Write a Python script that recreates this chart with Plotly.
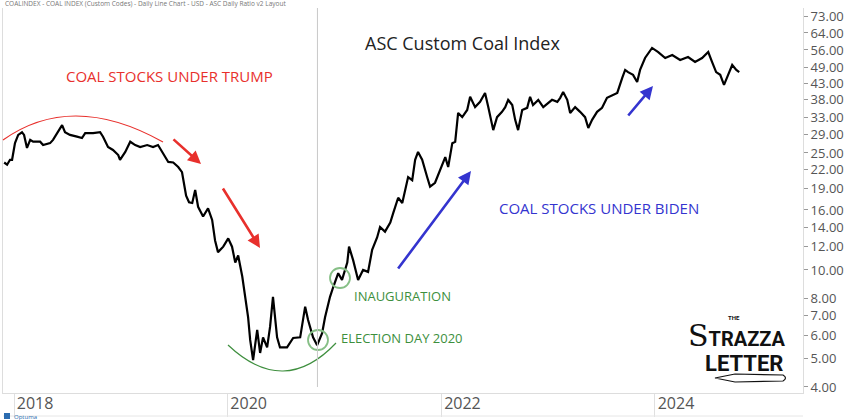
import plotly.graph_objects as go

# ---------------- data ----------------
dates = [
    "2017-11-28", "2017-12-08", "2017-12-18", "2017-12-25", "2018-01-04", "2018-01-15", "2018-01-28",
    "2018-02-04", "2018-02-14", "2018-02-25", "2018-03-07", "2018-03-31", "2018-04-10", "2018-05-04",
    "2018-05-14", "2018-05-28", "2018-06-14", "2018-06-24", "2018-07-11", "2018-08-04", "2018-08-21",
    "2018-09-01", "2018-09-28", "2018-10-22", "2018-11-01", "2018-11-18", "2018-12-05", "2018-12-23",
    "2018-12-29",
    "2019-01-16", "2019-02-02", "2019-02-19", "2019-03-08", "2019-04-01", "2019-04-21", "2019-05-08",
    "2019-05-25", "2019-06-12", "2019-06-29", "2019-07-16", "2019-07-29", "2019-08-05", "2019-08-12",
    "2019-08-22", "2019-09-02", "2019-09-12", "2019-09-22", "2019-10-09", "2019-10-26", "2019-11-09",
    "2019-11-19", "2019-11-29", "2019-12-17",
    "2020-01-03", "2020-01-16", "2020-01-27", "2020-02-06", "2020-02-20", "2020-03-01", "2020-03-11",
    "2020-03-18", "2020-03-28", "2020-04-11", "2020-04-21", "2020-05-01", "2020-05-15", "2020-05-25",
    "2020-06-04", "2020-06-18", "2020-06-28", "2020-07-22", "2020-08-12", "2020-09-05", "2020-09-22",
    "2020-10-02", "2020-10-19", "2020-11-02", "2020-11-19", "2020-11-29", "2020-12-16", "2020-12-27",
    "2021-01-13", "2021-01-26", "2021-02-13", "2021-02-19", "2021-03-05", "2021-03-22", "2021-04-08",
    "2021-04-25", "2021-05-09", "2021-05-26", "2021-06-05", "2021-06-22", "2021-07-10", "2021-07-20",
    "2021-08-06", "2021-08-20", "2021-08-30", "2021-09-09", "2021-09-23", "2021-10-03", "2021-10-13",
    "2021-10-27", "2021-11-13", "2021-11-23", "2021-12-10", "2021-12-28",
    "2022-01-14", "2022-01-24", "2022-02-07", "2022-02-17", "2022-02-27", "2022-03-13", "2022-03-30",
    "2022-04-09", "2022-04-26", "2022-05-13", "2022-05-30", "2022-06-10", "2022-06-27", "2022-07-10",
    "2022-07-27", "2022-08-07", "2022-08-17", "2022-08-31", "2022-09-10", "2022-09-20", "2022-10-04",
    "2022-10-21", "2022-10-31", "2022-11-10", "2022-11-28", "2022-12-15",
    "2023-01-02", "2023-01-14", "2023-02-01", "2023-02-11", "2023-02-21", "2023-03-07", "2023-03-17",
    "2023-04-03", "2023-04-20", "2023-05-07", "2023-05-18", "2023-05-31", "2023-06-17", "2023-07-04",
    "2023-07-21", "2023-08-08", "2023-08-25", "2023-09-11", "2023-09-21", "2023-10-01", "2023-10-18",
    "2023-11-01", "2023-11-11", "2023-11-28", "2023-12-22",
    "2024-01-12", "2024-02-05", "2024-02-29", "2024-03-27", "2024-04-23", "2024-05-17", "2024-06-10",
    "2024-07-01", "2024-07-14", "2024-07-28", "2024-08-11", "2024-08-24", "2024-09-07", "2024-09-21",
    "2024-10-05", "2024-10-15",
]
values = [
    23.2, 22.8, 23.7, 23.7, 27.0, 28.8, 29.4, 28.8, 26.0, 27.7, 27.3, 27.3, 26.6, 27.0, 27.7, 29.2,
    31.1, 29.4, 28.8, 28.4, 28.1, 29.2, 29.2, 29.4, 28.4, 26.2, 25.6, 24.6, 23.7,
    25.2, 27.3, 26.6, 26.2, 26.6, 26.2, 26.6, 25.0, 23.3, 23.2, 22.4, 21.5, 19.5, 17.9, 17.0, 16.9,
    18.7, 16.4, 15.2, 16.2, 14.8, 12.6, 11.5, 12.0,
    12.8, 12.0, 10.6, 11.2, 9.5, 8.1, 6.9, 5.78, 4.94, 6.25, 5.22, 5.9, 5.45, 6.4, 8.1, 5.9, 5.45,
    5.45, 5.87, 5.9, 7.5, 6.76, 5.9, 5.55, 6.1, 6.9, 8.1, 8.75,
    9.75, 9.25, 10.6, 12.0, 10.8, 9.25, 10.0, 9.85, 11.7, 12.9, 14.0, 13.5, 14.5, 15.6, 17.6, 16.9,
    18.7, 20.7, 20.2, 23.7, 25.2, 23.7, 20.7, 19.2, 19.8, 21.9,
    24.2, 22.4, 27.0, 27.3, 34.2, 33.1, 35.0, 38.8, 35.8, 37.3, 40.0, 35.8, 29.9, 33.1, 34.5, 35.8,
    37.9, 36.4, 32.4, 29.9, 35.0, 35.6, 38.8, 36.4, 37.9, 35.8,
    37.0, 37.9, 37.3, 38.5, 40.3, 37.9, 34.2, 35.8, 34.5, 33.1, 30.4, 32.4, 34.5, 35.6, 38.5, 39.4,
    40.0, 45.0, 47.9, 47.1, 46.1, 43.6, 47.9, 52.6, 56.9,
    55.1, 52.6, 53.8, 51.8, 53.0, 51.0, 52.6, 55.1, 51.0, 47.1, 46.1, 42.6, 46.1, 49.8, 47.9, 47.1,
]

price_ticks = [4, 5, 6, 7, 8, 10, 12, 14, 16, 19, 22, 25, 29, 33, 38, 43, 49, 56, 64, 73]
price_labels = [f"{v:.2f}" for v in price_ticks]
year_ticks = ["2018-01-01", "2020-01-01", "2022-01-01", "2024-01-01"]
year_labels = ["2018", "2020", "2022", "2024"]
election_day = "2020-11-03"

title_text = "ASC Custom Coal Index"
header_text = "COALINDEX - COAL INDEX (Custom Codes) - Daily Line Chart - USD - ASC Daily Ratio v2 Layout"

# ---------------- layout helpers (pixel -> paper) ----------------
W, H = 860, 420
L, R, T, B = 3, 803, 8, 393


def px(x):
    return (x - L) / (R - L)


def py(y):
    return (B - y) / (B - T)


RED = "#e8302c"
BLUE = "#3434cf"
GREEN_T = "#3d8f3d"
GREEN_S = "#86bf86"
Y_TICK_FONT = dict(family="Open Sans, Noto Sans, sans-serif", size=13, color="#555555")
X_TICK_FONT = dict(family="Open Sans, Noto Sans, sans-serif", size=16, color="#555555")

fig = go.Figure()
fig.add_trace(go.Scatter(x=dates, y=values, mode="lines",
                         line=dict(color="#000000", width=2.2), hoverinfo="skip",
                         showlegend=False))

annotations = []


def text(x, y, s, size, color, family="Open Sans, sans-serif", xanchor="center", bold=False):
    annotations.append(dict(x=px(x), y=py(y), xref="paper", yref="paper", text=(f"<b>{s}</b>" if bold else s),
                            showarrow=False, xanchor=xanchor, yanchor="middle",
                            font=dict(size=size, color=color, family=family)))


def arrow(x0, y0, x1, y1, color):
    annotations.append(dict(x=px(x1), y=py(y1), xref="paper", yref="paper", text="",
                            showarrow=True, ax=x0 - x1, ay=y0 - y1, axref="pixel", ayref="pixel",
                            arrowhead=2, arrowsize=1.0, arrowwidth=2.6, arrowcolor=color))


text(3, 4, header_text, 6.5, "#777777", xanchor="left")
text(462, 43, title_text, 18, "#222222")
text(169, 76, "COAL STOCKS UNDER TRUMP", 15, RED)
text(599, 208, "COAL STOCKS UNDER BIDEN", 15, BLUE)
text(352, 296, "INAUGURATION", 13, GREEN_T, xanchor="left")
text(339, 338, "ELECTION DAY 2020", 13, GREEN_T, xanchor="left")

arrow(172, 138, 201, 164, RED)
arrow(222, 187, 260, 248, RED)
arrow(397, 270, 471, 171, BLUE)
arrow(627, 117, 653, 86, BLUE)

# logo
LOGO_FONT = "Liberation Sans Narrow, Roboto, sans-serif"
text(734, 317, "THE", 6, "#111111", family="Roboto, sans-serif", bold=True)
annotations.append(dict(x=px(737), y=py(335), xref="paper", yref="paper", showarrow=False,
                        xanchor="center", yanchor="middle",
                        text=("<span style='font-family:DejaVu Serif, serif;font-size:30px'>S</span>"
                              "<b>TRAZZA</b>"),
                        font=dict(size=20, color="#111111", family=LOGO_FONT)))
text(744, 363, "LETTER", 22, "#111111", family=LOGO_FONT, bold=True)
# Optuma mark
text(12, 417, "Optuma", 6, "#2b6cb0", xanchor="left")

shapes = []


def qpath(x0, y0, cx, cy, x1, y1):
    return f"M {px(x0)},{py(y0)} Q {px(cx)},{py(cy)} {px(x1)},{py(y1)}"


shapes.append(dict(type="path", xref="paper", yref="paper", path=qpath(3, 140, 72, 91, 163, 142),
                   line=dict(color=RED, width=1.2)))
shapes.append(dict(type="path", xref="paper", yref="paper", path=qpath(228, 345, 284, 398, 336, 343),
                   line=dict(color="#3f8f3f", width=1.2)))
for cx, cy, r in [(318, 340, 10), (340, 278, 10)]:
    shapes.append(dict(type="circle", xref="paper", yref="paper",
                       x0=px(cx - r), x1=px(cx + r), y0=py(cy + r), y1=py(cy - r),
                       line=dict(color=GREEN_S, width=1.8)))
# election-day vertical line
shapes.append(dict(type="line", xref="x", yref="paper", x0=election_day, x1=election_day,
                   y0=py(387), y1=1.0, line=dict(color="#c8c8c8", width=1)))
# bottom band line
shapes.append(dict(type="line", xref="paper", yref="paper", x0=0, x1=1.0, y0=py(416), y1=py(416),
                   line=dict(color="#e6e6e6", width=1)))
# pen under logo
shapes.append(dict(type="path", xref="paper", yref="paper",
                   path=(f"M {px(715)},{py(378)} L {px(735)},{py(374)} L {px(783)},{py(375)} "
                         f"Q {px(788)},{py(378)} {px(783)},{py(381)} L {px(735)},{py(382)} Z"),
                   line=dict(color="#111111", width=1.2), fillcolor="rgba(0,0,0,0)"))
shapes.append(dict(type="rect", xref="paper", yref="paper", x0=px(4), x1=px(10), y0=py(419), y1=py(413),
                   line=dict(width=0), fillcolor="#2b6cb0"))

fig.update_layout(
    width=W, height=H,
    margin=dict(l=L, r=W - R, t=T, b=H - B, pad=0),
    paper_bgcolor="white", plot_bgcolor="white",
    annotations=annotations, shapes=shapes,
    xaxis=dict(type="date", range=["2017-11-24", "2025-05-21"],
               tickmode="array", tickvals=year_ticks, ticktext=year_labels,
               ticks="outside", ticklen=23, tickcolor="#e0e0e0", tickwidth=1,
               ticklabelshift=21, ticklabelstandoff=-27,
               tickfont=X_TICK_FONT, showgrid=False, zeroline=False,
               showline=True, linecolor="#dddddd", linewidth=1),
    yaxis=dict(type="log", side="right", range=[0.5815, 1.891],
               tickmode="array", tickvals=price_ticks, ticktext=price_labels,
               ticks="outside", ticklen=4, tickcolor="#999999",
               tickfont=Y_TICK_FONT, showgrid=False, zeroline=False,
               showline=True, mirror=True, linecolor="#dddddd", linewidth=1),
)

fig.write_html("out.html")
